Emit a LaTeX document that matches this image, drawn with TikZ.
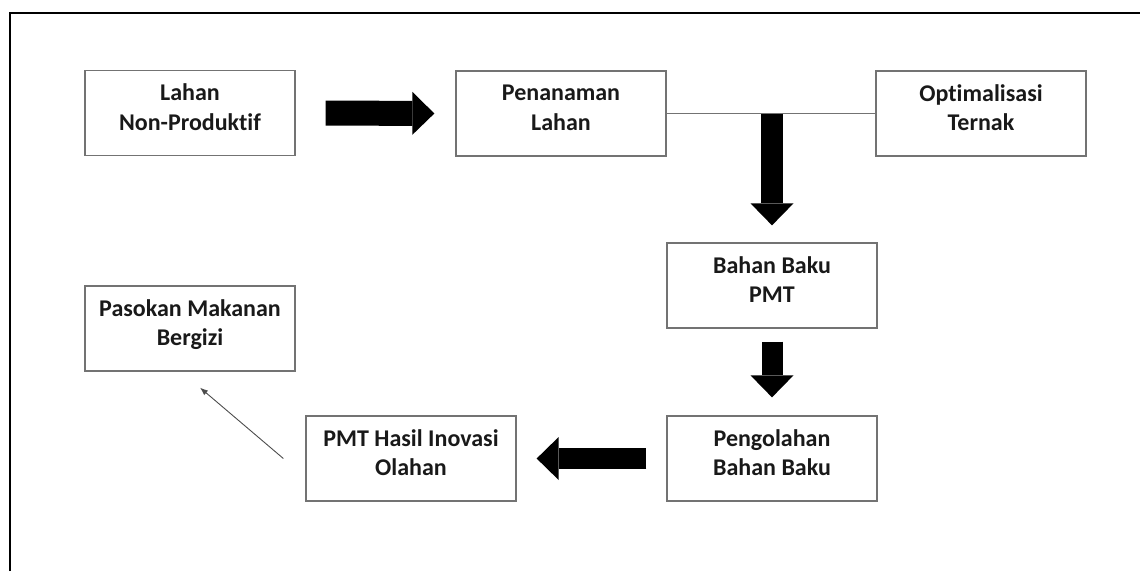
\documentclass[tikz,border=0pt]{standalone}
\usepackage{fontspec}
\setmainfont[Ligatures=NoCommon]{Carlito}
\usetikzlibrary{arrows.meta}
\tikzset{>={Latex[length=8pt,width=6pt]}}
\colorlet{myedge}{black!55}
\colorlet{mytext}{black!90}
\tikzset{
  box/.style={draw=myedge,line width=1.3pt,minimum width=210pt,minimum height=85pt,
    inner sep=0pt,align=center,text=mytext,text depth=12pt,
    font=\fontsize{24}{29.5}\selectfont\bfseries},
  fat/.style={line width=#1,-{Triangle[length=22pt,width=43pt,line width=0pt]}},
  link/.style={draw=myedge,line width=1.3pt},
}

\begin{document}
\begin{tikzpicture}[x=1pt,y=-1pt]

        % FRAME
        \useasboundingbox (0,0) rectangle (1140,571);
        \draw[line width=2pt] (10,571) -- (10,12.5) -- (1140,12.5);

        % NODES
        \node[box] (lahan) at (190,113) {Lahan\\Non-Produktif};
        \node[box] (penanaman) at (561,113.5) {Penanaman\\Lahan};
        \node[box] (ternak) at (981,113.5) {Optimalisasi\\Ternak};
        \node[box] (bahan) at (772,285.5) {Bahan Baku\\PMT};
        \node[box] (olah) at (772,458.5) {Pengolahan\\Bahan Baku};
        \node[box] (pmt) at (411,458.5) {PMT Hasil Inovasi\\Olahan};
        \node[box] (pasokan) at (190,328.5) {Pasokan Makanan\\Bergizi};

        % LINKS
        \coordinate (J) at (bahan.north |- penanaman.east);
        \draw[link] (penanaman.east) -- (ternak.west);

        % ARROWS
        \draw[fat=25pt] ([xshift=30pt]lahan.east) -- ([xshift=-21pt]penanaman.west);
        \draw[fat=22pt] (J) -- ([yshift=17pt]bahan.north);
        \draw[fat=21pt] ([yshift=-13pt]bahan.south) -- ([yshift=18pt]olah.north);
        \draw[fat=21pt] ([xshift=-20pt]olah.west) -- ([xshift=20pt]pmt.east);
        \draw[->,black!70,line width=0.9pt] ([xshift=-22pt]pmt.west) -- ([xshift=10pt,yshift=-16pt]pasokan.south);

\end{tikzpicture}
\end{document}
